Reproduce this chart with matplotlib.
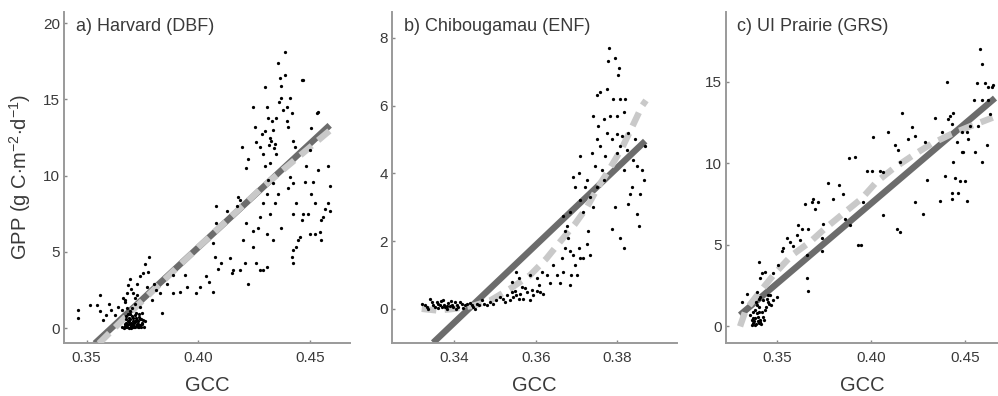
import numpy as np
import matplotlib.pyplot as plt

plt.rcParams['font.family'] = ['Liberation Sans', 'DejaVu Sans']
plt.rcParams['mathtext.fontset'] = 'custom'
plt.rcParams['mathtext.rm'] = 'Liberation Sans'
plt.rcParams['mathtext.it'] = 'Liberation Sans:italic'

# ---- data ----
titles = ['a) Harvard (DBF)', 'b) Chibougamau (ENF)', 'c) UI Prairie (GRS)']

harvard_pts = [
    (0.346, 1.2), (0.346, 0.65), (0.356, 2.2), (0.3515, 1.5), (0.3545, 1.5), (0.356, 1.1),
    (0.3587, 0.87), (0.3575, 0.54), (0.360, 1.6), (0.361, 1.2), (0.3627, 0.87), (0.364, 1.4),
    (0.3657, 1.2), (0.367, 1.85), (0.368, 2.3), (0.3687, 2.8), (0.3694, 3.2), (0.370, 2.6),
    (0.371, 2.3), (0.3716, 2.0), (0.3724, 2.9), (0.3739, 3.4), (0.3754, 3.6), (0.376, 4.2),
    (0.378, 4.7), (0.3776, 3.7), (0.3769, 2.7), (0.380, 2.9), (0.3813, 2.5), (0.383, 2.3),
    (0.3836, 1.0), (0.3791, 1.85),
    # dense cluster around GCC 0.37, GPP ~ 0
    (0.366, 0.1), (0.367, 0.3), (0.3675, 0.05), (0.368, 0.2), (0.3685, 0.45), (0.369, 0.0),
    (0.369, 0.25), (0.3695, 0.6), (0.370, 0.1), (0.370, 0.35), (0.3705, 0.8), (0.371, 0.05),
    (0.371, 0.2), (0.3715, 0.5), (0.372, 0.15), (0.372, 0.7), (0.3725, 0.3), (0.373, 0.05),
    (0.373, 0.45), (0.3735, 0.9), (0.374, 0.2), (0.3745, 0.6), (0.375, 0.35), (0.3755, 0.1),
    (0.376, 0.5), (0.3675, 0.6), (0.3685, 0.9), (0.3695, 1.1), (0.3705, 1.3), (0.372, 1.0),
    (0.3715, 1.6), (0.368, 1.3), (0.367, 1.7), (0.3665, 2.0), (0.3725, 2.2), (0.374, 1.4),
    (0.375, 1.0), (0.3735, 0.1),
    (0.3668, 0.0), (0.3672, 0.15), (0.3678, 0.35), (0.3683, 0.1), (0.3688, 0.3), (0.3692, 0.5),
    (0.3698, 0.15), (0.3702, 0.25), (0.3708, 0.45), (0.3712, 0.35), (0.3718, 0.05), (0.3722, 0.5),
    (0.3728, 0.15), (0.3732, 0.3), (0.3738, 0.6), (0.3742, 0.05), (0.3748, 0.25), (0.3752, 0.55),
    (0.3700, 0.0), (0.3714, 0.1), (0.3727, 0.55), (0.3690, 0.7), (0.3710, 0.65), (0.3733, 0.75),
    (0.3676, 0.8), (0.3696, 0.9), (0.3718, 0.85),
    (0.3858, 2.9), (0.3888, 2.3), (0.3918, 2.4), (0.3948, 2.7), (0.394, 3.5), (0.3888, 3.5),
    (0.399, 2.3), (0.4006, 2.7), (0.4036, 3.4), (0.405, 3.05), (0.4066, 2.4), (0.4088, 3.9),
    (0.4103, 4.25), (0.4076, 4.7), (0.4142, 4.6), (0.4157, 3.8), (0.415, 3.6), (0.4187, 3.8),
    (0.421, 4.25), (0.4224, 2.9), (0.4246, 5.3), (0.4261, 4.25), (0.4276, 3.8), (0.429, 3.8),
    (0.4306, 4.0), (0.4246, 6.4), (0.4269, 6.6), (0.4216, 6.9), (0.4201, 5.8), (0.408, 6.9),
    (0.4066, 5.6), (0.408, 8.0), (0.4127, 7.7), (0.4172, 8.0), (0.418, 8.6), (0.4187, 8.4),
    (0.4194, 11.9), (0.4216, 10.5), (0.4224, 11.1),
    (0.4246, 14.5), (0.4254, 13.2), (0.4261, 12.2), (0.4276, 11.9), (0.4284, 12.7), (0.429, 11.4),
    (0.430, 15.8), (0.4306, 14.5), (0.4313, 13.8), (0.432, 12.5), (0.433, 13.6), (0.4336, 13.0),
    (0.4343, 12.1), (0.435, 11.4), (0.4358, 17.4), (0.4366, 16.4), (0.4373, 15.1), (0.438, 14.3),
    (0.4388, 18.1), (0.4388, 16.6), (0.4396, 14.5), (0.4396, 13.6), (0.4403, 13.2), (0.441, 15.1),
    (0.4418, 14.1), (0.4425, 12.3), (0.4373, 15.9), (0.435, 13.8), (0.432, 10.8), (0.430, 10.6),
    (0.4313, 9.7), (0.4306, 8.8), (0.429, 8.2), (0.4276, 7.3), (0.4336, 9.5), (0.4343, 8.2),
    (0.432, 7.5), (0.4358, 8.8), (0.4373, 6.6), (0.4336, 5.8), (0.4306, 6.2), (0.4403, 9.2),
    (0.441, 9.9), (0.4433, 11.9), (0.4425, 9.5), (0.444, 8.2), (0.4425, 7.5), (0.4418, 4.7),
    (0.4425, 4.25), (0.444, 5.3), (0.4448, 5.8), (0.4463, 7.1), (0.447, 7.5), (0.4485, 10.6),
    (0.4478, 9.6), (0.450, 11.7), (0.4507, 13.1), (0.4515, 9.6), (0.4522, 8.2), (0.453, 14.1),
    (0.4537, 14.2), (0.4537, 10.4), (0.4493, 7.5), (0.450, 6.2), (0.4522, 6.2), (0.4545, 6.3),
    (0.4552, 7.1), (0.456, 7.3), (0.4567, 7.8), (0.4582, 8.2), (0.459, 7.7), (0.459, 9.3),
    (0.4582, 10.6), (0.4552, 5.8), (0.4463, 16.3), (0.447, 16.3), (0.4507, 8.8), (0.4455, 6.0),
    (0.4425, 5.1), (0.4316, 12.0), (0.4327, 12.3), (0.4340, 11.8), (0.4300, 12.9), (0.4362, 14.8),
]

chibou_pts = [
    (0.3321, 0.15), (0.3333, 0.05), (0.3341, 0.3), (0.3349, 0.1), (0.3358, 0.2), (0.3366, 0.12),
    (0.3374, 0.25), (0.3378, 0.05), (0.3386, 0.18), (0.3394, 0.1), (0.3402, 0.2), (0.3411, 0.05),
    (0.3419, 0.15), (0.3427, 0.1), (0.3439, 0.18), (0.3447, 0.05), (0.3456, 0.15), (0.3468, 0.25),
    (0.3370, 0.05), (0.3382, -0.02), (0.3390, 0.08), (0.3345, 0.2), (0.3360, 0.02), (0.3407, 0.12),
    (0.3328, 0.1), (0.3337, 0.0), (0.3353, 0.05), (0.3362, 0.15), (0.3368, 0.22), (0.3376, 0.12),
    (0.3384, 0.08), (0.3392, 0.22), (0.3398, 0.05), (0.3404, 0.0), (0.3415, 0.2), (0.3423, 0.02),
    (0.3432, 0.14), (0.3443, 0.1), (0.3452, 0.0), (0.3462, 0.1), (0.3474, 0.15),
    (0.348, 0.1), (0.3488, 0.2), (0.3496, 0.15), (0.3504, 0.25), (0.3513, 0.34), (0.3521, 0.3),
    (0.3529, 0.4), (0.3537, 0.25), (0.3541, 0.5), (0.3549, 0.54), (0.3553, 0.4), (0.3562, 0.44),
    (0.3566, 0.64), (0.357, 0.3), (0.3578, 0.5), (0.3586, 0.25), (0.3594, 0.4), (0.3602, 0.54),
    (0.3607, 0.69), (0.3611, 0.5), (0.3619, 0.44), (0.3541, 0.8), (0.3558, 0.9), (0.3586, 1.0),
    (0.3602, 0.9), (0.3615, 1.1), (0.3553, 1.1), (0.3525, 0.2), (0.3545, 0.35), (0.3558, 0.3),
    (0.3574, 0.6), (0.3590, 0.55),
    (0.3627, 1.0), (0.3635, 0.75), (0.3643, 1.3), (0.3651, 1.0), (0.366, 0.75), (0.3668, 1.1),
    (0.3664, 1.5), (0.3672, 1.8), (0.368, 2.1), (0.3684, 1.7), (0.3684, 0.7), (0.3686, 1.0),
    (0.3692, 1.6), (0.3696, 1.3), (0.3701, 1.0), (0.3705, 1.8), (0.3709, 1.5), (0.3717, 1.5),
    (0.3725, 1.9), (0.3733, 1.6), (0.3729, 2.3), (0.3717, 2.85), (0.3709, 3.2), (0.3696, 3.6),
    (0.3692, 3.9), (0.3705, 4.0), (0.3709, 4.5), (0.3721, 3.6), (0.3725, 3.8), (0.3733, 3.3),
    (0.3737, 4.6), (0.3745, 4.2), (0.3749, 3.6), (0.3741, 3.0), (0.3672, 2.3), (0.3676, 2.45),
    (0.3668, 2.75), (0.3684, 2.85),
    (0.3757, 4.8), (0.3753, 5.4), (0.3757, 6.4), (0.3762, 4.1), (0.3766, 3.8), (0.377, 4.5),
    (0.3774, 5.2), (0.3774, 6.5), (0.3778, 7.3), (0.378, 7.7), (0.3782, 5.7), (0.3786, 5.0),
    (0.379, 6.2), (0.3794, 7.4), (0.3798, 5.7), (0.3798, 4.6), (0.3802, 6.9), (0.3805, 7.1),
    (0.3807, 6.2), (0.3811, 5.1), (0.3815, 5.8), (0.3815, 4.1), (0.3819, 6.2), (0.3823, 4.7),
    (0.3827, 5.2), (0.3831, 3.4), (0.3835, 3.6), (0.3839, 4.4), (0.3844, 5.0), (0.3848, 4.2),
    (0.3852, 2.45), (0.3848, 2.8), (0.3856, 3.4), (0.386, 4.1), (0.3864, 3.8), (0.3868, 4.8),
    (0.3807, 2.1), (0.3815, 1.8), (0.3786, 2.35), (0.3794, 3.0), (0.3827, 3.1), (0.3749, 5.0),
    (0.3766, 5.6), (0.3741, 5.7), (0.3749, 6.3), (0.3798, 5.15), (0.3807, 4.8),
]

prairie_pts = [
    (0.3314, 1.5), (0.334, 2.0), (0.3358, 0.7), (0.3367, 0.4), (0.3376, 0.2), (0.3385, 0.5),
    (0.3394, 0.8), (0.3403, 0.2), (0.3412, 0.4), (0.3385, 1.0), (0.3403, 1.2), (0.3412, 1.8),
    (0.3429, 1.6), (0.3447, 1.7), (0.3465, 1.9), (0.3456, 1.5), (0.3482, 1.6), (0.350, 1.8),
    (0.337, 0.1), (0.338, 0.3), (0.339, 0.15), (0.340, 0.6), (0.341, 0.25), (0.342, 0.9),
    (0.3395, 1.3), (0.3375, 0.9), (0.343, 0.4), (0.3445, 1.2), (0.346, 1.4), (0.3405, 1.7),
    (0.3372, 0.5), (0.3383, 0.1), (0.3398, 0.35), (0.3408, 0.9), (0.3418, 0.15), (0.3425, 0.6),
    (0.3388, 1.5), (0.3435, 1.0), (0.3452, 1.9), (0.3472, 1.3),
    (0.3394, 2.1), (0.3412, 2.95), (0.342, 3.25), (0.3403, 3.96), (0.3438, 3.35), (0.3482, 3.25),
    (0.3509, 3.76), (0.3527, 4.6), (0.3535, 4.8), (0.3553, 5.4), (0.3571, 5.2), (0.3588, 4.9),
    (0.3607, 5.6), (0.3615, 6.2), (0.3624, 5.3), (0.3633, 6.0), (0.365, 7.5), (0.3659, 2.95),
    (0.3668, 2.2), (0.3659, 4.4), (0.3668, 6.0), (0.3686, 7.6), (0.3695, 7.8), (0.3704, 7.2),
    (0.3721, 7.6), (0.3739, 5.4), (0.3739, 4.6), (0.3748, 6.3), (0.3774, 8.8), (0.380, 7.8),
    (0.3833, 8.7), (0.3854, 8.1), (0.3863, 6.6), (0.3881, 10.3), (0.3916, 10.4), (0.3889, 6.2),
    (0.3934, 5.0), (0.3945, 5.0), (0.396, 7.6), (0.3978, 9.55), (0.4005, 9.55), (0.4013, 11.6),
    (0.4049, 9.55), (0.4066, 9.45), (0.4066, 6.8), (0.4093, 11.9), (0.4128, 11.1), (0.4137, 6.0),
    (0.4155, 5.8), (0.4146, 10.8), (0.4164, 13.1), (0.4155, 10.1), (0.4199, 11.5), (0.4217, 12.2),
    (0.4235, 11.7), (0.4235, 7.6), (0.4279, 6.9), (0.4296, 9.0), (0.4288, 11.3), (0.4341, 12.8),
    (0.4367, 7.7), (0.4375, 11.9), (0.4393, 9.25), (0.4402, 15.0), (0.4412, 12.7), (0.442, 12.9),
    (0.443, 12.4), (0.4438, 10.1), (0.443, 8.2), (0.443, 7.8), (0.4438, 13.1), (0.4447, 9.1),
    (0.4456, 11.3), (0.4465, 8.2), (0.4473, 8.9), (0.4482, 11.9), (0.4482, 10.7), (0.4491, 10.7),
    (0.450, 8.9), (0.4509, 7.7), (0.4509, 11.9), (0.4518, 11.5), (0.4527, 12.3), (0.4545, 13.9),
    (0.4553, 10.7), (0.4562, 14.9), (0.4571, 12.3), (0.458, 17.0), (0.4589, 16.1), (0.4589, 13.9),
    (0.4589, 10.1), (0.4606, 14.9), (0.4615, 11.1), (0.4624, 14.7), (0.4633, 13.0), (0.4642, 14.7),
    (0.465, 14.8), (0.4624, 13.9),
]

# linear fits (solid) - end points
lin_x = [(0.3537, 0.4589), (0.3349, 0.3868), (0.3305, 0.4659)]
lin_y = [(-1.0, 13.3), (-1.0, 4.95), (0.7, 14.0)]

# nonlinear fits (dashed light grey)
curve_x = [
    [0.3555, 0.370, 0.385, 0.400, 0.415, 0.430, 0.4589],
    [0.3321, 0.336, 0.340, 0.345, 0.3488, 0.3537, 0.3586, 0.3626, 0.3659, 0.3696,
     0.3725, 0.3753, 0.3782, 0.3811, 0.3835, 0.386, 0.387],
    [0.3305, 0.3335, 0.3411, 0.349, 0.358, 0.3677, 0.3756, 0.3854, 0.3951, 0.403,
     0.4119, 0.4225, 0.4322, 0.4428, 0.4534, 0.4647],
]
curve_y = [
    [-1.0, 1.1, 3.2, 5.3, 7.35, 9.4, 12.95],
    [0.0, -0.05, 0.0, 0.1, 0.24, 0.59, 0.99, 1.48, 1.97, 2.5,
     2.99, 3.6, 4.15, 4.74, 5.34, 5.98, 6.15],
    [0.0, 1.0, 2.13, 3.25, 4.36, 5.18, 6.0, 6.93, 7.84, 8.86,
     9.68, 10.5, 11.2, 11.8, 12.3, 12.8],
]

xlims = [(0.340, 0.468), (0.3249, 0.3946), (0.3229, 0.4675)]
ylims = [(-0.95, 20.75), (-1.0, 8.77), (-1.0, 19.3)]
xticks = [[0.35, 0.40, 0.45], [0.34, 0.36, 0.38], [0.35, 0.40, 0.45]]
yticks = [[0, 5, 10, 15, 20], [0, 2, 4, 6, 8], [0, 5, 10, 15]]

points = [harvard_pts, chibou_pts, prairie_pts]
positions = [
    [0.0644, 0.1346, 0.2863, 0.836],
    [0.3931, 0.1346, 0.2853, 0.836],
    [0.7272, 0.1346, 0.2728, 0.836],
]

text_col = '#3a3a3a'
spine_col = '#9a9a9a'

fig = plt.figure(figsize=(9.98, 3.96), dpi=100)
for i in range(3):
    ax = fig.add_axes(positions[i])
    pts = np.array(points[i])
    ax.plot(lin_x[i], lin_y[i], color='#6c6c6c', lw=4.6, solid_capstyle='butt', zorder=2)
    ax.plot(curve_x[i], curve_y[i], color='#c9c9c9', lw=4.6, dashes=(2.3, 1.3),
            dash_capstyle='butt', zorder=3)
    ax.scatter(pts[:, 0], pts[:, 1], s=5.5, c='black', linewidths=0, zorder=4)

    ax.set_xlim(*xlims[i])
    ax.set_ylim(*ylims[i])
    ax.set_xticks(xticks[i])
    ax.set_xticklabels(['%.2f' % t for t in xticks[i]])
    ax.set_yticks(yticks[i])
    for s in ['top', 'right']:
        ax.spines[s].set_visible(False)
    for s in ['left', 'bottom']:
        ax.spines[s].set_color(spine_col)
        ax.spines[s].set_linewidth(1.4)
    ax.tick_params(direction='in', length=2.5, width=1, color='#888888',
                   labelsize=11, labelcolor=text_col)
    ax.tick_params(axis='x', pad=6)
    ax.tick_params(axis='y', pad=3)
    ax.set_xlabel('GCC', fontsize=14.5, color=text_col, labelpad=8)
    ax.text(0.042, 0.955, titles[i], transform=ax.transAxes, fontsize=13,
            color=text_col, ha='left', va='center')
    if i == 0:
        ax.set_ylabel(r'GPP (g C$\cdot$m$^{-2}$$\cdot$d$^{-1}$)', fontsize=14.5,
                      color=text_col, labelpad=7)

fig.savefig('out.png', dpi=100)
